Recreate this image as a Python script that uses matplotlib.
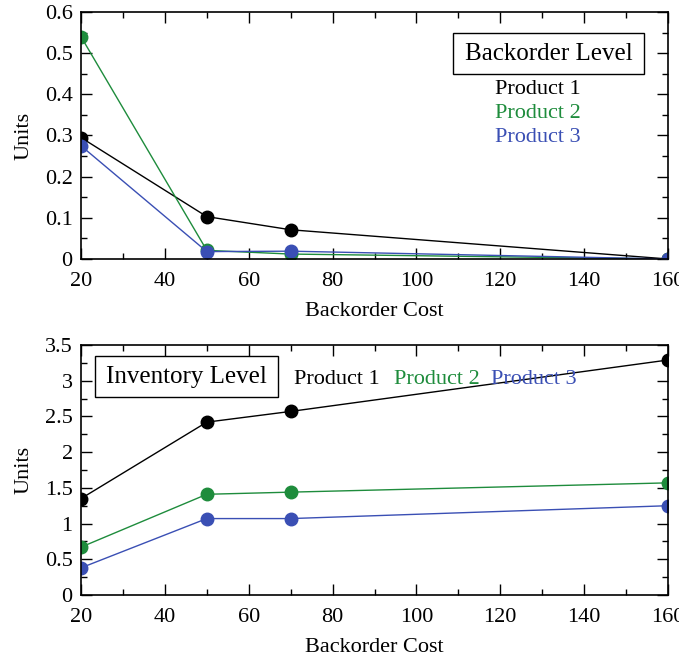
import matplotlib
matplotlib.use("Agg")
import matplotlib.pyplot as plt
from matplotlib.ticker import MultipleLocator, FuncFormatter
from matplotlib.patches import Rectangle

plt.rcParams['font.family'] = ['Liberation Serif', 'DejaVu Serif']

costs = [20, 50, 70, 160]
products = ["Product 1", "Product 2", "Product 3"]
colors = ["#000000", "#1e8c3c", "#3a4fb4"]

backorder = {
    "Product 1": [0.295, 0.103, 0.071, 0.0],
    "Product 2": [0.540, 0.021, 0.012, 0.0],
    "Product 3": [0.275, 0.018, 0.019, 0.0],
}
inventory = {
    "Product 1": [1.35, 2.42, 2.57, 3.29],
    "Product 2": [0.67, 1.41, 1.44, 1.57],
    "Product 3": [0.38, 1.07, 1.07, 1.25],
}

W, H = 679, 658
fig = plt.figure(figsize=(W / 100, H / 100), dpi=100)

def px_axes(l, t, r, b):
    return fig.add_axes([l / W, 1 - b / H, (r - l) / W, (b - t) / H])

ax1 = px_axes(81, 12, 668, 259)
ax2 = px_axes(81, 345, 668, 595)

fs = 16

def style(ax, ymax, ymajor, yminor):
    ax.set_xlim(20, 160)
    ax.set_ylim(0, ymax)
    ax.xaxis.set_major_locator(MultipleLocator(20))
    ax.xaxis.set_minor_locator(MultipleLocator(10))
    ax.yaxis.set_major_locator(MultipleLocator(ymajor))
    ax.yaxis.set_minor_locator(MultipleLocator(yminor))
    ax.tick_params(which='both', direction='in', top=True, right=True, labelsize=fs, width=1)
    ax.tick_params(which='major', length=8)
    ax.tick_params(which='minor', length=4)
    ax.tick_params(axis='x', pad=9)
    ax.tick_params(axis='y', pad=6)
    for s in ax.spines.values():
        s.set_linewidth(1.2)
    ax.set_xlabel("Backorder Cost", fontsize=fs, labelpad=8)
    ax.set_ylabel("Units", fontsize=fs, labelpad=8)

for p, c in zip(products, colors):
    ax1.plot(costs, backorder[p], color=c, lw=1, marker='o', ms=9)
    ax2.plot(costs, inventory[p], color=c, lw=1, marker='o', ms=9)

style(ax1, 0.6, 0.1, 0.05)
style(ax2, 3.5, 0.5, 0.25)
ax1.yaxis.set_major_formatter(FuncFormatter(lambda v, _: "0" if abs(v) < 1e-9 else f"{v:.1f}"))
ax2.yaxis.set_major_formatter(FuncFormatter(lambda v, _: f"{v:g}"))

def ftext(x, y, s, **kw):
    return fig.text(x / W, 1 - y / H, s, **kw)

def fbox(l, t, r, b):
    fig.patches.append(Rectangle((l / W, 1 - b / H), (r - l) / W, (b - t) / H,
                                 transform=fig.transFigure, fc='white', ec='black',
                                 lw=1, zorder=5))

fbox(453, 33, 644, 74)
ftext(548.5, 54, "Backorder Level", fontsize=18, ha='center', va='center', zorder=6)
for i, (p, c) in enumerate(zip(products, colors)):
    ftext(495, 89 + 24 * i, p, fontsize=fs, color=c, ha='left', va='center')

fbox(95, 356, 278, 397)
ftext(186.5, 377, "Inventory Level", fontsize=18, ha='center', va='center', zorder=6)
for x, p, c in zip([294, 394, 491], products, colors):
    ftext(x, 380, p, fontsize=fs, color=c, ha='left', va='center')

fig.savefig("out.png", dpi=100)
